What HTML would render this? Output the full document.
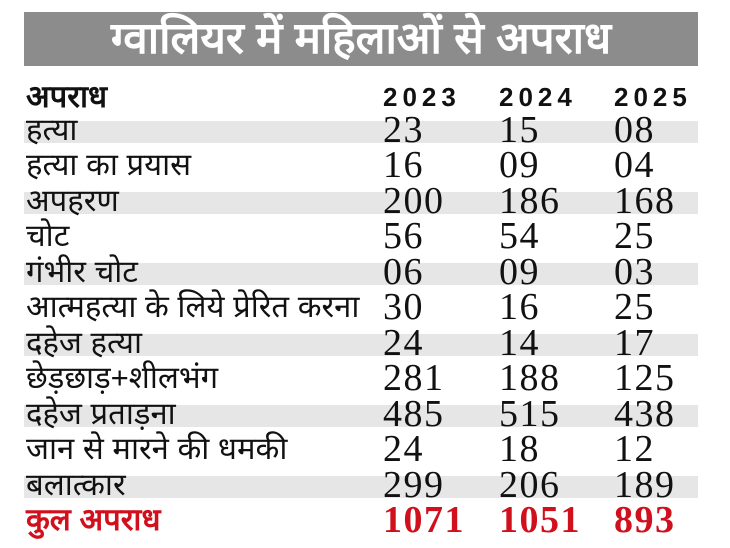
<!DOCTYPE html>
<html><head><meta charset="utf-8">
<style>
body{margin:0;width:730px;height:548px;background:#fff;position:relative;overflow:hidden;font-family:"Liberation Sans",sans-serif;}
.band{position:absolute;left:24px;top:12px;width:674px;height:54px;background:#8c8c8c;color:#fff;font-weight:bold;font-size:44px;text-align:center;line-height:54px;}
.stripe{position:absolute;left:24px;width:674px;height:22px;background:#e6e6e6;}
.lbl{position:absolute;left:26px;font-size:31px;color:#111;line-height:30px;white-space:nowrap;}
.num{position:absolute;font-family:"Liberation Serif",serif;font-size:38px;color:#111;line-height:30px;letter-spacing:1.5px;}
.hd{position:absolute;font-weight:bold;font-size:26px;letter-spacing:5px;color:#111;line-height:30px;}
.red{color:#d0101c;font-weight:bold;}
</style></head><body>
<div class="band">ग्वालियर में महिलाओं से अपराध</div>
<div class="hd" style="left:26px;top:82px;letter-spacing:0;font-size:31px">अपराध</div>
<div class="hd" style="left:383px;top:82px">2023</div>
<div class="hd" style="left:499px;top:82px">2024</div>
<div class="hd" style="left:614px;top:82px">2025</div>
<div class="stripe" style="top:121px"></div>
<div class="stripe" style="top:192px"></div>
<div class="stripe" style="top:263px"></div>
<div class="stripe" style="top:334px"></div>
<div class="stripe" style="top:405px"></div>
<div class="stripe" style="top:476px"></div>
<div class="lbl" style="top:115px">हत्या</div><div class="num" style="left:383px;top:115px">23</div><div class="num" style="left:499px;top:115px">15</div><div class="num" style="left:614px;top:115px">08</div>
<div class="lbl" style="top:150px">हत्या का प्रयास</div><div class="num" style="left:383px;top:150px">16</div><div class="num" style="left:499px;top:150px">09</div><div class="num" style="left:614px;top:150px">04</div>
<div class="lbl" style="top:186px">अपहरण</div><div class="num" style="left:383px;top:186px">200</div><div class="num" style="left:499px;top:186px">186</div><div class="num" style="left:614px;top:186px">168</div>
<div class="lbl" style="top:221px">चोट</div><div class="num" style="left:383px;top:221px">56</div><div class="num" style="left:499px;top:221px">54</div><div class="num" style="left:614px;top:221px">25</div>
<div class="lbl" style="top:257px">गंभीर चोट</div><div class="num" style="left:383px;top:257px">06</div><div class="num" style="left:499px;top:257px">09</div><div class="num" style="left:614px;top:257px">03</div>
<div class="lbl" style="top:292px">आत्महत्या के लिये प्रेरित करना</div><div class="num" style="left:383px;top:292px">30</div><div class="num" style="left:499px;top:292px">16</div><div class="num" style="left:614px;top:292px">25</div>
<div class="lbl" style="top:328px">दहेज हत्या</div><div class="num" style="left:383px;top:328px">24</div><div class="num" style="left:499px;top:328px">14</div><div class="num" style="left:614px;top:328px">17</div>
<div class="lbl" style="top:363px">छेड़छाड़+शीलभंग</div><div class="num" style="left:383px;top:363px">281</div><div class="num" style="left:499px;top:363px">188</div><div class="num" style="left:614px;top:363px">125</div>
<div class="lbl" style="top:399px">दहेज प्रताड़ना</div><div class="num" style="left:383px;top:399px">485</div><div class="num" style="left:499px;top:399px">515</div><div class="num" style="left:614px;top:399px">438</div>
<div class="lbl" style="top:434px">जान से मारने की धमकी</div><div class="num" style="left:383px;top:434px">24</div><div class="num" style="left:499px;top:434px">18</div><div class="num" style="left:614px;top:434px">12</div>
<div class="lbl" style="top:470px">बलात्कार</div><div class="num" style="left:383px;top:470px">299</div><div class="num" style="left:499px;top:470px">206</div><div class="num" style="left:614px;top:470px">189</div>
<div class="lbl red" style="top:505px">कुल अपराध</div><div class="num red" style="left:383px;top:505px">1071</div><div class="num red" style="left:499px;top:505px">1051</div><div class="num red" style="left:614px;top:505px">893</div>
</body></html>
